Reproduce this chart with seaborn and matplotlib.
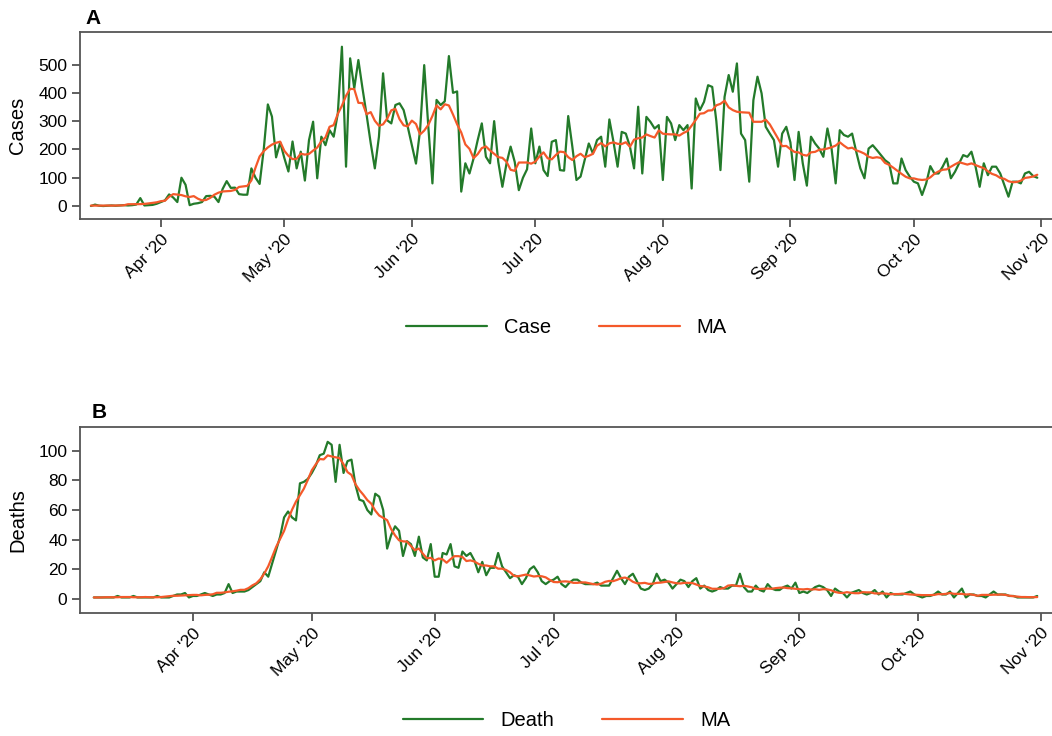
import pandas as pd
import seaborn as sns
import matplotlib.pyplot as plt
import matplotlib.dates as mdates

# Daily counts
case_start = "2020-03-15"
cases = [
    0, 5, 1, 0, 1, 2, 1, 2, 3, 2, 3, 5, 28, 2, 3, 4, 8, 14, 20, 41,
    30, 14, 100, 75, 3, 8, 10, 14, 35, 36, 33, 14, 60, 88, 64, 65, 42, 40, 40, 133,
    100, 78, 200, 359, 316, 172, 225, 170, 122, 228, 133, 192, 90, 233, 298, 98, 245, 215, 268, 245,
    327, 563, 139, 522, 416, 516, 416, 322, 222, 133, 245, 469, 303, 292, 357, 363, 339, 280, 215, 150,
    268, 498, 280, 80, 375, 357, 370, 530, 400, 405, 51, 151, 115, 168, 233, 292, 174, 151, 300, 156,
    68, 150, 210, 156, 56, 100, 130, 274, 151, 210, 127, 106, 227, 233, 127, 125, 318, 210, 92, 104,
    162, 221, 186, 233, 245, 139, 306, 227, 139, 262, 256, 210, 133, 351, 115, 315, 297, 274, 286, 92,
    315, 292, 233, 286, 268, 286, 62, 380, 339, 368, 427, 421, 300, 127, 386, 463, 404, 504, 256, 233,
    86, 374, 457, 398, 280, 256, 233, 139, 256, 280, 225, 92, 262, 151, 72, 245, 221, 203, 174, 274,
    203, 80, 268, 251, 245, 256, 192, 133, 98, 203, 215, 198, 180, 162, 151, 80, 80, 168, 127, 104,
    86, 80, 39, 80, 141, 115, 115, 139, 168, 98, 121, 151, 180, 174, 192, 139, 68, 151, 109, 139,
    139, 115, 74, 33, 86, 86, 80, 115, 121, 106, 100,
]

death_start = "2020-03-07"
deaths = [
    1, 1, 1, 1, 1, 1, 2, 1, 1, 1, 2, 1, 1, 1, 1, 1, 2, 1, 1, 1,
    2, 3, 3, 4, 1, 2, 2, 3, 4, 3, 2, 3, 3, 4, 10, 4, 5, 5, 5, 6,
    8, 10, 12, 18, 15, 24, 33, 42, 55, 59, 55, 53, 78, 79, 81, 85, 90, 97, 98, 106,
    104, 79, 104, 85, 93, 94, 77, 67, 66, 60, 57, 71, 69, 60, 34, 43, 49, 46, 29, 39,
    37, 29, 42, 28, 26, 37, 15, 15, 31, 30, 37, 22, 21, 32, 29, 31, 26, 18, 25, 16,
    21, 21, 31, 22, 18, 14, 16, 15, 10, 14, 20, 22, 18, 12, 10, 12,
    13, 15, 10, 8, 11, 13, 13, 11, 10, 10, 10, 11, 9, 9, 9, 14, 19, 14, 10, 15,
    17, 12, 7, 6, 7, 10, 17, 12, 13, 11, 7, 10, 13, 12, 8, 12, 14, 7, 9, 6,
    5, 6, 8, 7, 7, 9, 9, 17, 8, 5, 5, 9, 6, 5, 10, 7, 6, 6, 8, 9,
    7, 11, 4, 5, 4, 6, 8, 9, 8, 6, 2, 7, 5, 4, 1, 4, 5, 6, 4, 3,
    4, 6, 3, 5, 1, 4, 3, 3, 3, 4, 5, 3, 2, 1, 2, 2, 3, 5, 3, 3,
    5, 1, 4, 7, 1, 3, 3, 2, 2, 1, 3, 5, 3, 3, 3, 2, 2, 1, 1, 1,
    1, 1, 2,
]

green = "#237a2a"
orange = "#f4592a"

sns.set_theme(style="ticks")
plt.rcParams['font.family'] = ['Liberation Sans', 'DejaVu Sans']
plt.rcParams['text.color'] = 'black'
plt.rcParams['axes.labelcolor'] = 'black'

case_df = pd.DataFrame({"date": pd.date_range(case_start, periods=len(cases)), "value": cases})
case_df["ma"] = case_df["value"].rolling(7, center=True, min_periods=1).mean()
death_df = pd.DataFrame({"date": pd.date_range(death_start, periods=len(deaths)), "value": deaths})
death_df["ma"] = death_df["value"].rolling(7, center=True, min_periods=1).mean()

fig = plt.figure(figsize=(10.52, 7.36), dpi=100)
# frames run past the right edge of the picture, as in the original
ax1 = fig.add_axes([0.076, 0.7024, 0.925, 0.2541])
ax2 = fig.add_axes([0.076, 0.1671, 0.925, 0.2527])


def draw(ax, df, label, ylabel, xlim, ylim, yticks):
    sns.lineplot(data=df, x="date", y="value", ax=ax, color=green, lw=1.6, label=label)
    sns.lineplot(data=df, x="date", y="ma", ax=ax, color=orange, lw=1.6, label="MA")
    ax.set_xlim(pd.Timestamp(xlim[0]), pd.Timestamp(xlim[1]))
    ax.set_ylim(*ylim)
    ax.set_yticks(yticks)
    ax.xaxis.set_major_locator(mdates.MonthLocator(bymonth=range(4, 12)))
    ax.xaxis.set_major_formatter(mdates.DateFormatter("%b '%y"))
    ax.set_xlabel("")
    ax.set_ylabel(ylabel, fontsize=14.5, labelpad=8)
    ax.tick_params(length=6, width=1.2, color="#444", labelcolor="black", labelsize=12.5, pad=3)
    for s in ax.spines.values():
        s.set_color("#555")
        s.set_linewidth(1.3)
    plt.setp(ax.get_xticklabels(), rotation=45, ha="right", rotation_mode="anchor")
    ax.legend(loc="center", bbox_to_anchor=(0.5, -0.578), ncol=2, frameon=False,
              fontsize=14.5, handlelength=4, columnspacing=2.4, handletextpad=0.85)


draw(ax1, case_df, "Case", "Cases", ("2020-03-12 08:00", "2020-11-03 20:00"),
     (-46, 615), range(0, 501, 100))
draw(ax2, death_df, "Death", "Deaths", ("2020-03-03 12:00", "2020-11-04 00:00"),
     (-9.5, 116), range(0, 101, 20))

fig.text(85 / 1052, 1 - 19 / 736, "A", fontweight="bold", fontsize=15, va="center")
fig.text(92 / 1052, 1 - 412 / 736, "B", fontweight="bold", fontsize=15, va="center")

plt.savefig("out.png", dpi=100)
